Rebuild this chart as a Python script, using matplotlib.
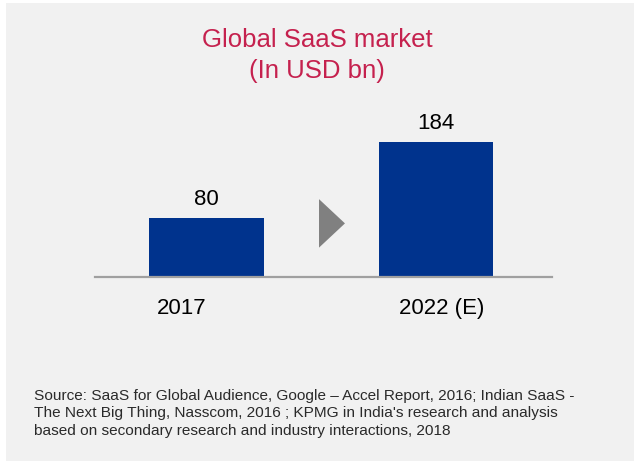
import matplotlib.pyplot as plt
from matplotlib.patches import Rectangle, Polygon

plt.rcParams['font.family'] = ['Liberation Sans', 'DejaVu Sans']

years = ['2017', '2022 (E)']
market_usd_bn = [80, 184]

title = 'Global SaaS market'
subtitle = '(In USD bn)'
source = ("Source: SaaS for Global Audience, Google \u2013 Accel Report, 2016; Indian SaaS -\n"
          "The Next Big Thing, Nasscom, 2016 ; KPMG in India's research and analysis\n"
          "based on secondary research and industry interactions, 2018")

BG = '#f1f1f1'
BAR = '#00338d'
RED = '#c5214e'

fig = plt.figure(figsize=(6.34, 4.61), dpi=100)
fig.patch.set_facecolor('white')
# grey panel, leaving a thin white strip on the top and left
fig.add_artist(Rectangle((6 / 634, 0), 1, 1 - 3 / 461, transform=fig.transFigure,
                         facecolor=BG, edgecolor='none', zorder=0))

ax = fig.add_axes([95 / 634, (461 - 277) / 461, 457 / 634, 177 / 461])
ax.set_facecolor('none')
x = list(range(len(years)))
bars = ax.bar(x, market_usd_bn, width=0.5, color=BAR, zorder=2)
ax.set_xlim(-0.486, 1.505)
ax.set_ylim(0, 241)

for b, v in zip(bars, market_usd_bn):
    ax.annotate(f'{v}', (b.get_x() + b.get_width() / 2, v), xytext=(0, 6),
                textcoords='offset points', ha='center', va='bottom',
                fontsize=16, color='black')

# grey arrow between the two bars
ax.add_patch(Polygon([[0.49, 106], [0.603, 73], [0.49, 40]], closed=True,
                     facecolor='#808080', edgecolor='none'))

for s in ['top', 'right', 'left']:
    ax.spines[s].set_visible(False)
ax.spines['bottom'].set_color('#a0a0a0')
ax.spines['bottom'].set_linewidth(1.6)
ax.spines['bottom'].set_zorder(3)
ax.set_yticks([])
# category labels sit a little off the bar centres
ax.set_xticks([x[0] - 0.108, x[1] + 0.024])
ax.set_xticklabels(years, fontsize=16)
ax.tick_params(axis='x', length=0, pad=15)

fig.text(0.5, 1 - 40 / 461, title, ha='center', va='center', fontsize=18.5, color=RED)
fig.text(0.5, 1 - 71 / 461, subtitle, ha='center', va='center', fontsize=18.5, color=RED)
fig.text(34 / 634, 1 - 389 / 461, source, ha='left', va='top', fontsize=11.1,
         color='#2a2a2a', linespacing=1.3)

fig.savefig('out.png', dpi=100, facecolor=fig.get_facecolor())
